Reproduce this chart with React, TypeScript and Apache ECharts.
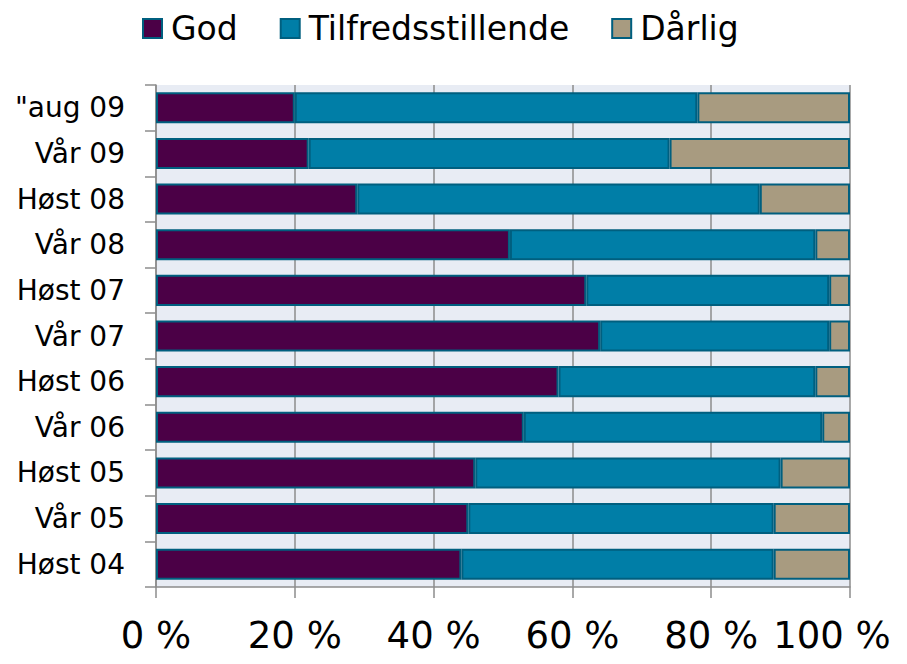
import React, { useEffect, useRef } from "react";
import * as echarts from "echarts";

const categories = ['"aug 09', "Vår 09", "Høst 08", "Vår 08", "Høst 07", "Vår 07", "Høst 06", "Vår 06", "Høst 05", "Vår 05", "Høst 04"];
const god = [20, 22, 29, 51, 62, 64, 58, 53, 46, 45, 44];
const tilfreds = [58, 52, 58, 44, 35, 33, 37, 43, 44, 44, 45];
const darlig = [22, 26, 13, 5, 3, 3, 5, 4, 10, 11, 11];
const xTicks = [0, 20, 40, 60, 80, 100];

const FONT = "'DejaVu Sans', Verdana, sans-serif";
const BORDER = "#005F7F";

export default function App() {
  const ref = useRef<HTMLDivElement>(null);
  useEffect(() => {
    document.body.style.margin = "0";
    const chart = echarts.init(ref.current!, null, { renderer: "svg" });
    const mk = (name: string, data: number[], color: string) => ({
      name,
      type: "bar",
      stack: "total",
      data,
      barCategoryGap: "32%",
      itemStyle: { color, borderColor: BORDER, borderWidth: 2 },
    });
    chart.setOption({
      animation: false,
      backgroundColor: "#ffffff",
      textStyle: { fontFamily: FONT },
      legend: {
        top: 7,
        left: 137,
        itemWidth: 19,
        itemHeight: 19,
        itemGap: 42,
        icon: "rect",
        textStyle: { fontSize: 33, color: "#000", fontFamily: FONT, padding: [0, 0, 0, 4] },
        data: ["God", "Tilfredsstillende", "Dårlig"],
      },
      grid: {
        left: 156,
        right: 57,
        top: 85,
        bottom: 77,
        show: true,
        backgroundColor: "#E8ECF4",
        borderWidth: 0,
      },
      xAxis: {
        type: "value",
        min: xTicks[0],
        max: xTicks[xTicks.length - 1],
        interval: 20,
        axisLine: { show: true, lineStyle: { color: "#8c8c8c", width: 1.5 } },
        axisTick: { show: true, length: 11, lineStyle: { color: "#8c8c8c", width: 1.5 } },
        splitLine: { show: true, lineStyle: { color: "#8c8c8c", width: 1.5 } },
        axisLabel: {
          formatter: (v: number) => (v === 100 ? "{last|" + v + " %}" : v + " %"),
          fontSize: 37,
          color: "#000",
          margin: 30,
          fontFamily: FONT,
          rich: { last: { fontSize: 37, color: "#000", fontFamily: FONT, padding: [0, 36, 0, 0] } },
        },
      },
      yAxis: {
        type: "category",
        inverse: true,
        data: categories,
        axisLine: { show: true, lineStyle: { color: "#8c8c8c", width: 1.5 } },
        axisTick: { show: true, length: 11, lineStyle: { color: "#8c8c8c", width: 1.5 } },
        axisLabel: { fontSize: 28, color: "#000", margin: 31, fontFamily: FONT },
      },
      series: [
        mk("God", god, "#4B0046"),
        mk("Tilfredsstillende", tilfreds, "#007EA7"),
        mk("Dårlig", darlig, "#A89B80"),
      ],
    });
    return () => chart.dispose();
  }, []);
  return <div ref={ref} style={{ width: 907, height: 664 }} />;
}
